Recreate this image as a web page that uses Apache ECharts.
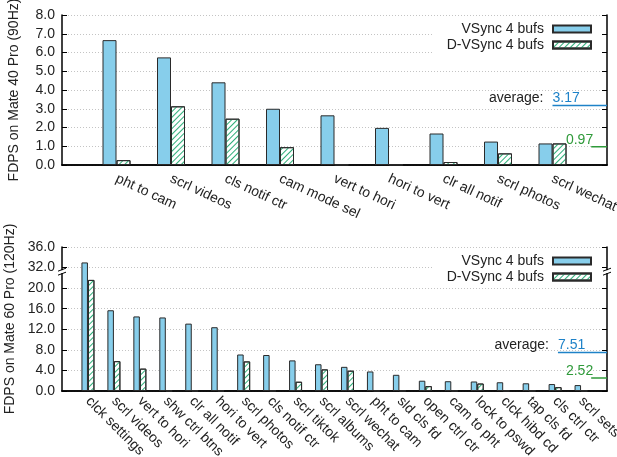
<!DOCTYPE html>
<html><head><meta charset="utf-8">
<script src="https://cdn.jsdelivr.net/npm/echarts@6/dist/echarts.min.js"></script>
<style>html,body{margin:0;padding:0;background:#fff}#c{width:617px;height:457px}</style>
</head><body><div id="c"></div>
<script>
// ---------- data ----------
const seriesNames = ['VSync 4 bufs', 'D-VSync 4 bufs'];
const topCats = ['pht to cam','scrl videos','cls notif ctr','cam mode sel','vert to hori','hori to vert','clr all notif','scrl photos','scrl wechat'];
const topVSync = [6.66, 5.74, 4.41, 3.00, 2.65, 1.98, 1.68, 1.25, 1.15];
const topDVSync = [0.26, 3.13, 2.47, 0.95, 0.02, 0.02, 0.16, 0.62, 1.15];
const topAvg = [3.17, 0.97];
const topYTicks = ['0.0','1.0','2.0','3.0','4.0','5.0','6.0','7.0','8.0'];

const botCats = ['clck settings','scrl videos','vert to hori','shw ctrl btns','clr all notif','hori to vert','scrl photos','cls notif ctr','scrl tiktok','scrl albums','scrl wechat','pht to cam','sld cls fd','open ctrl ctr','cam to pht','lock to pswd','clck hibd cd','tap cls fd','cls ctrl ctr','scrl sets'];
const botVSync = [33.0, 15.7, 14.5, 14.3, 13.1, 12.4, 7.1, 7.0, 5.95, 5.2, 4.7, 3.8, 3.15, 2.0, 1.9, 1.85, 1.7, 1.5, 1.35, 1.15];
const botDVSync = [21.6, 5.8, 4.35, 0.05, 0.05, 0.05, 5.75, 0.05, 1.8, 4.2, 3.95, 0.05, 0.05, 0.95, 0.05, 1.45, 0.05, 0.05, 0.75, 0.05];
const botAvg = [7.51, 2.52];
const botYTicks = ['0.0','4.0','8.0','12.0','16.0','20.0','32.0','36.0'];

// broken axis: values above the break are drawn shifted down by 8
const BRK_FROM = 22, BRK_SHIFT = 8;
const brk = v => (v > BRK_FROM ? v - BRK_SHIFT : v);

// ---------- styles ----------
const FONT = 'Liberation Sans';
const BLUE = '#87ceeb', EDGE = '#2a2a2a', HATCH = '#2cae78';
const AVG_BLUE = '#1e82c8', AVG_GREEN = '#2f9a3a';
const decal = { symbol: 'rect', symbolSize: 1, color: HATCH, dashArrayX: [1, 0], dashArrayY: [0.9, 2.6], rotation: -Math.PI / 4 };

const pad = arr => [null, ...arr, null];
const padCats = arr => ['', ...arr, ''];

function catAxis(grid, cats, rot, margin) {
  return { type: 'category', gridIndex: grid, data: padCats(cats), boundaryGap: false,
    axisLine: { show: true, lineStyle: { color: '#000', width: 1.5 } },
    axisTick: { show: false },
    axisLabel: { interval: 0, rotate: rot, margin: margin, fontSize: 14, color: '#222', fontFamily: FONT },
    splitLine: { show: false } };
}
function topBorder(grid, max) {
  return { type: 'value', gridIndex: grid, position: 'top', min: 0, max: max, show: true,
    axisLine: { show: true, lineStyle: { color: '#000', width: 1.5 } },
    axisTick: { show: false }, axisLabel: { show: false }, splitLine: { show: false } };
}
function valAxis(grid, max, interval, ticks, right) {
  return { type: 'value', gridIndex: grid, position: right ? 'right' : 'left', min: 0, max: max, interval: interval,
    axisLine: { show: true, lineStyle: { color: '#000', width: 1.5 } },
    axisTick: { show: true, inside: true, length: 5, lineStyle: { color: '#000', width: 1 } },
    axisLabel: { show: !right, margin: 7, fontSize: 14, color: '#222', fontFamily: FONT,
      formatter: v => ticks[Math.round(v / interval)] },
    splitLine: { show: !right, lineStyle: { color: '#c4c4c4', type: [1, 2], width: 1 } } };
}
function legend(top) {
  return { top: top, right: 17, orient: 'vertical', align: 'right', data: seriesNames,
    itemWidth: 38, itemHeight: 7, itemGap: 2, padding: [6, 8, 3, 13],
    backgroundColor: '#fff', icon: 'rect',
    textStyle: { fontSize: 14, color: '#222', fontFamily: FONT, padding: [0, 4, 0, 0] } };
}
function bars(x, y, data, green, w) {
  return { type: 'bar', name: seriesNames[green ? 1 : 0], xAxisIndex: x, yAxisIndex: y,
    data: data, barWidth: w, barGap: '0%',
    itemStyle: green ? { color: '#fff', borderColor: EDGE, borderWidth: 1, decal: decal }
                     : { color: BLUE, borderColor: EDGE, borderWidth: 1 } };
}
function avgLine(x, y, x0, x1, v, color) {
  return { type: 'line', xAxisIndex: x, yAxisIndex: y, data: [[x0, v], [x1, v]], symbol: 'none',
    silent: true, lineStyle: { color: color, width: 1.5 }, z: 5 };
}

const option = {
  animation: false,
  backgroundColor: '#fff',
  textStyle: { fontFamily: FONT },
  legend: [legend(16), legend(248)],
  grid: [
    { left: 62, right: 10, top: 15, height: 150, containLabel: false, outerBoundsMode: 'none' },
    { left: 62, right: 10, top: 247, height: 144, containLabel: false, outerBoundsMode: 'none' }
  ],
  xAxis: [
    catAxis(0, topCats, -25, 13),
    topBorder(0, topCats.length + 1),
    catAxis(1, botCats, -45, 8),
    topBorder(1, botCats.length + 1)
  ],
  yAxis: [
    Object.assign(valAxis(0, 8, 1, topYTicks, false), { name: 'FDPS on Mate 40 Pro (90Hz)', nameLocation: 'middle', nameGap: 41, nameTextStyle: { fontSize: 14, color: '#222', fontFamily: FONT } }),
    valAxis(0, 8, 1, topYTicks, true),
    Object.assign(valAxis(1, 28, 4, botYTicks, false), { name: 'FDPS on Mate 60 Pro (120Hz)', nameLocation: 'middle', nameGap: 41, nameTextStyle: { fontSize: 14, color: '#222', fontFamily: FONT } }),
    valAxis(1, 28, 4, botYTicks, true)
  ],
  series: [
    bars(0, 0, pad(topVSync), false, 14),
    bars(0, 0, pad(topDVSync), true, 14),
    avgLine(1, 0, 9.0, 10, topAvg[0], AVG_BLUE),
    avgLine(1, 0, 9.71, 10, topAvg[1], AVG_GREEN),
    bars(2, 2, pad(botVSync.map(brk)), false, 6.5),
    bars(2, 2, pad(botDVSync.map(brk)), true, 6.5),
    avgLine(3, 2, 19.11, 21, botAvg[0], AVG_BLUE),
    avgLine(3, 2, 20.39, 21, botAvg[1], AVG_GREEN)
  ]
};

const chart = echarts.init(document.getElementById('c'));
chart.setOption(option);

// ---------- annotations ----------
const F = '14px "Liberation Sans", Arial, sans-serif';
const P = (si, x, y) => chart.convertToPixel({ seriesIndex: si }, [x, y]);
const g = [];
function avgTexts(siBlue, xb, vb, siGreen, xg, vg) {
  const a = P(siBlue, xb, vb), b = P(siGreen, xg, vg);
  g.push({ type: 'text', z: 50, style: { text: 'average:', x: a[0] - 9, y: a[1] - 7, align: 'right', verticalAlign: 'middle', font: F, fill: '#222' } });
  g.push({ type: 'text', z: 50, style: { text: vb.toFixed(2), x: a[0], y: a[1] - 7, align: 'left', verticalAlign: 'middle', font: F, fill: AVG_BLUE } });
  g.push({ type: 'text', z: 50, style: { text: vg.toFixed(2), x: b[0] + 2, y: b[1] - 7, align: 'right', verticalAlign: 'middle', font: F, fill: AVG_GREEN } });
}
avgTexts(2, 9.0, topAvg[0], 3, 9.71, topAvg[1]);
avgTexts(6, 19.11, botAvg[0], 7, 20.39, botAvg[1]);

function breakMark(p) {
  g.push({ type: 'rect', z: 60, shape: { x: p[0] - 3, y: p[1] - 1, width: 6, height: 3 }, style: { fill: '#fff' } });
  g.push({ type: 'line', z: 61, shape: { x1: p[0] - 4, y1: p[1] + 0, x2: p[0] + 4, y2: p[1] - 3 }, style: { stroke: '#000', lineWidth: 1 } });
  g.push({ type: 'line', z: 61, shape: { x1: p[0] - 4, y1: p[1] + 4, x2: p[0] + 4, y2: p[1] + 1 }, style: { stroke: '#000', lineWidth: 1 } });
}
breakMark(P(4, 0, 23.3));
breakMark(P(4, botCats.length + 1, 23.3));

chart.setOption({ graphic: g });
</script>
</body></html>
